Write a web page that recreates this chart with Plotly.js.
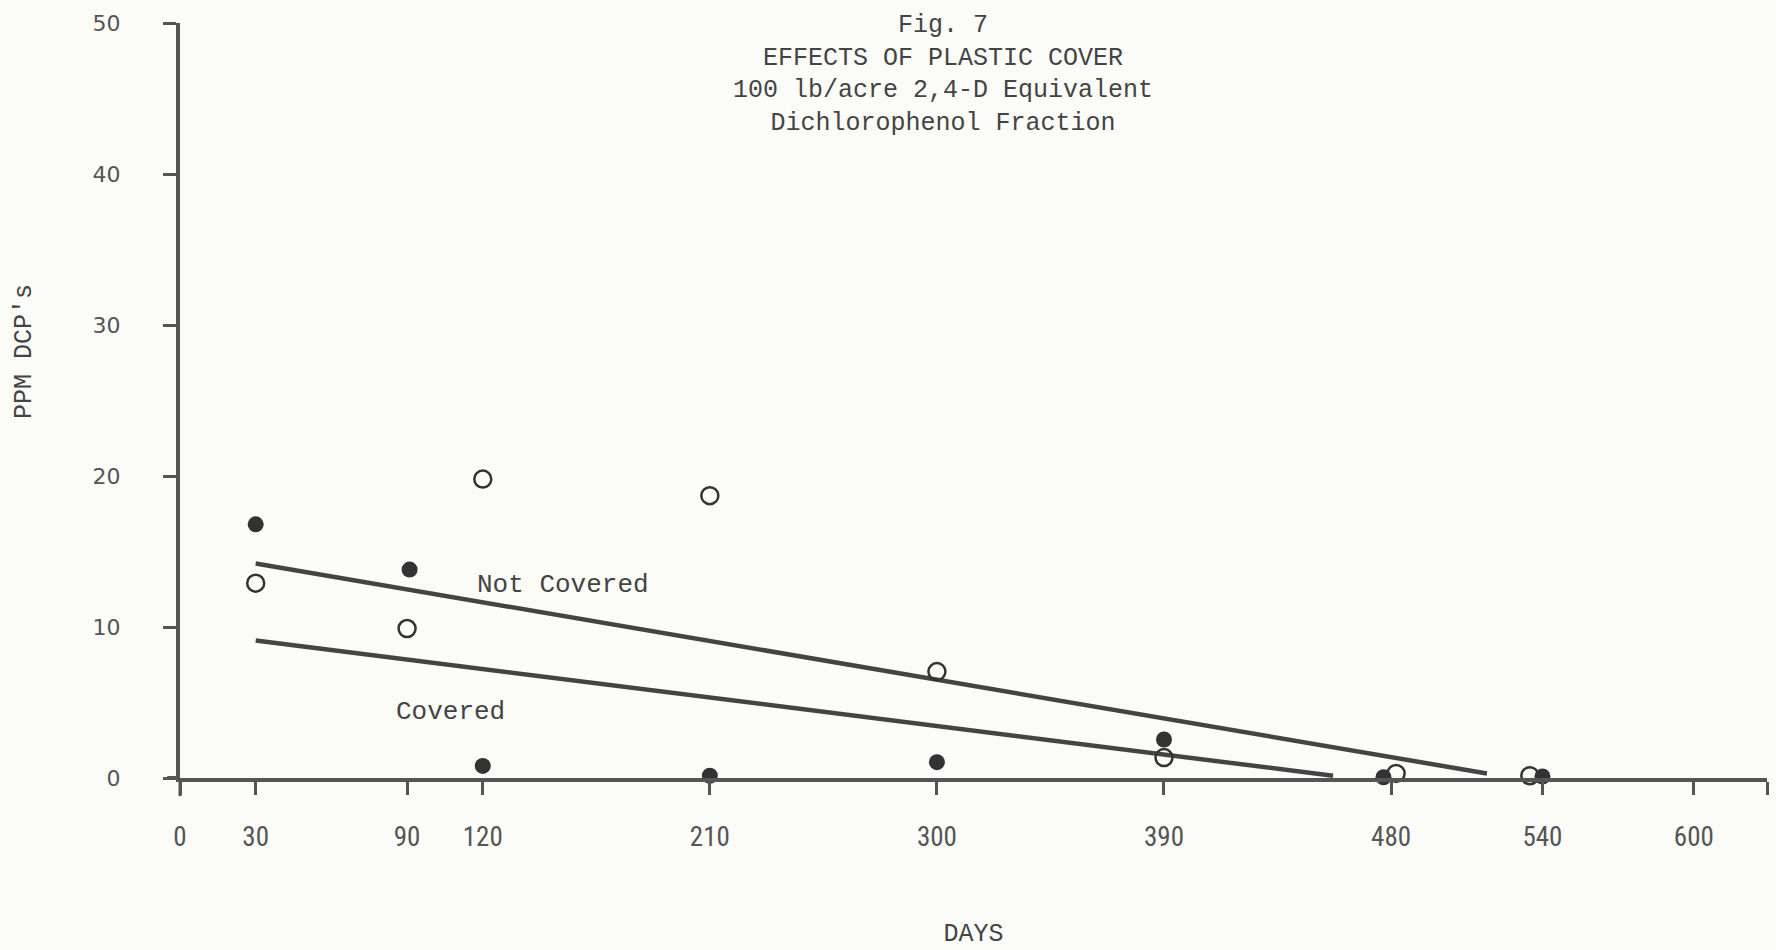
<!DOCTYPE html>
<html>
<head>
<meta charset="utf-8">
<script src="https://cdn.plot.ly/plotly-3.0.1.min.js"></script>
<style>html,body{margin:0;padding:0;background:#fbfbf7;}#chart{width:1776px;height:950px;}</style>
</head>
<body>
<div id="chart"></div>
<script>
// Open circles: not covered
var notCoveredDays = [30, 90, 120, 210, 300, 390, 482, 535];
var notCoveredPPM  = [12.9, 9.9, 19.8, 18.7, 7.05, 1.35, 0.3, 0.15];
// Filled circles: covered
var coveredDays = [30, 91, 120, 210, 300, 390, 477, 540];
var coveredPPM  = [16.8, 13.8, 0.8, 0.15, 1.05, 2.55, 0.05, 0.1];
// Fitted lines (end points)
var notCoveredFitDays = [30, 518];
var notCoveredFitPPM  = [14.2, 0.3];
var coveredFitDays = [30, 457];
var coveredFitPPM  = [9.1, 0.15];
var xTickVals = [0, 30, 90, 120, 210, 300, 390, 480, 540, 600, 629];
var xTickText = ['0', '30', '90', '120', '210', '300', '390', '480', '540', '600', ''];
var yTickVals = [0, 10, 20, 30, 40, 50];

var ink = '#444';
var mono = '"Courier New", "Liberation Mono", monospace';

var traces = [
  {x: notCoveredFitDays, y: notCoveredFitPPM, mode: 'lines', line: {color: ink, width: 4.5}, cliponaxis: false, hoverinfo: 'skip'},
  {x: coveredFitDays, y: coveredFitPPM, mode: 'lines', line: {color: ink, width: 4.5}, cliponaxis: false, hoverinfo: 'skip'},
  {x: notCoveredDays, y: notCoveredPPM, mode: 'markers', cliponaxis: false,
   marker: {symbol: 'circle-open', size: 17, color: '#333', line: {width: 2.5, color: '#333'}}},
  {x: coveredDays, y: coveredPPM, mode: 'markers', cliponaxis: false,
   marker: {symbol: 'circle', size: 16, color: '#333', line: {width: 0}}}
];

var layout = {
  width: 1776, height: 950,
  paper_bgcolor: '#fbfbf7', plot_bgcolor: '#fbfbf7',
  showlegend: false,
  margin: {l: 180, r: 9, t: 23, b: 172},
  title: {
    text: 'Fig. 7<br>EFFECTS OF PLASTIC COVER<br>100 lb/acre 2,4-D Equivalent<br>Dichlorophenol Fraction',
    x: 0.531, xanchor: 'center', xref: 'container',
    y: 0.966, yanchor: 'top', yref: 'container',
    pad: {t: 0},
    font: {family: mono, size: 25, color: '#444'}
  },
  xaxis: {
    range: [0, 629], showgrid: false, zeroline: false,
    showline: true, linewidth: 4, linecolor: '#555',
    ticks: 'outside', ticklen: 13, tickwidth: 3, tickcolor: '#555',
    tickmode: 'array', tickvals: xTickVals, ticktext: xTickText,
    ticklabelstandoff: 19,
    tickfont: {family: '"Liberation Sans Narrow", "Roboto Condensed", "Liberation Sans", sans-serif', size: 27, color: '#555'},
    title: {text: 'DAYS', standoff: 72, font: {family: mono, size: 25, color: '#444'}}
  },
  yaxis: {
    range: [0, 50], showgrid: false, zeroline: false,
    showline: true, linewidth: 4, linecolor: '#555',
    ticks: 'outside', ticklen: 13, tickwidth: 3, tickcolor: '#555',
    tickmode: 'array', tickvals: yTickVals,
    ticklabelstandoff: 38,
    tickfont: {family: '"DejaVu Sans", Verdana, sans-serif', size: 22, color: '#555'},
    title: {text: ''}
  },
  shapes: [
    {type: 'line', xref: 'x domain', yref: 'y domain', x0: -0.008, x1: 0, y0: 0, y1: 0, line: {color: '#555', width: 4}},
    {type: 'line', xref: 'x domain', yref: 'y domain', x0: 0, x1: 0, y0: 0, y1: -0.024, line: {color: '#555', width: 3}}
  ],
  annotations: [
    {x: 25, y: 352, xref: 'paper', yref: 'paper', text: "PPM DCP's", textangle: -90, showarrow: false,
     xanchor: 'center', yanchor: 'middle', font: {family: mono, size: 25, color: '#444'}},
    {x: 151.7, y: 12.8, xref: 'x', yref: 'y', text: 'Not Covered', showarrow: false, font: {family: mono, size: 26, color: '#444'}},
    {x: 107.3, y: 4.4, xref: 'x', yref: 'y', text: 'Covered', showarrow: false, font: {family: mono, size: 26, color: '#444'}}
  ]
};

// place the y-axis title annotation in pixel terms relative to the plot area
var plotW = 1776 - 180 - 9, plotH = 950 - 23 - 172;
layout.annotations[0].x = (25 - 180) / plotW;
layout.annotations[0].y = (950 - 172 - 352) / plotH;

Plotly.newPlot('chart', traces, layout, {displayModeBar: false, staticPlot: true});
</script>
</body>
</html>
